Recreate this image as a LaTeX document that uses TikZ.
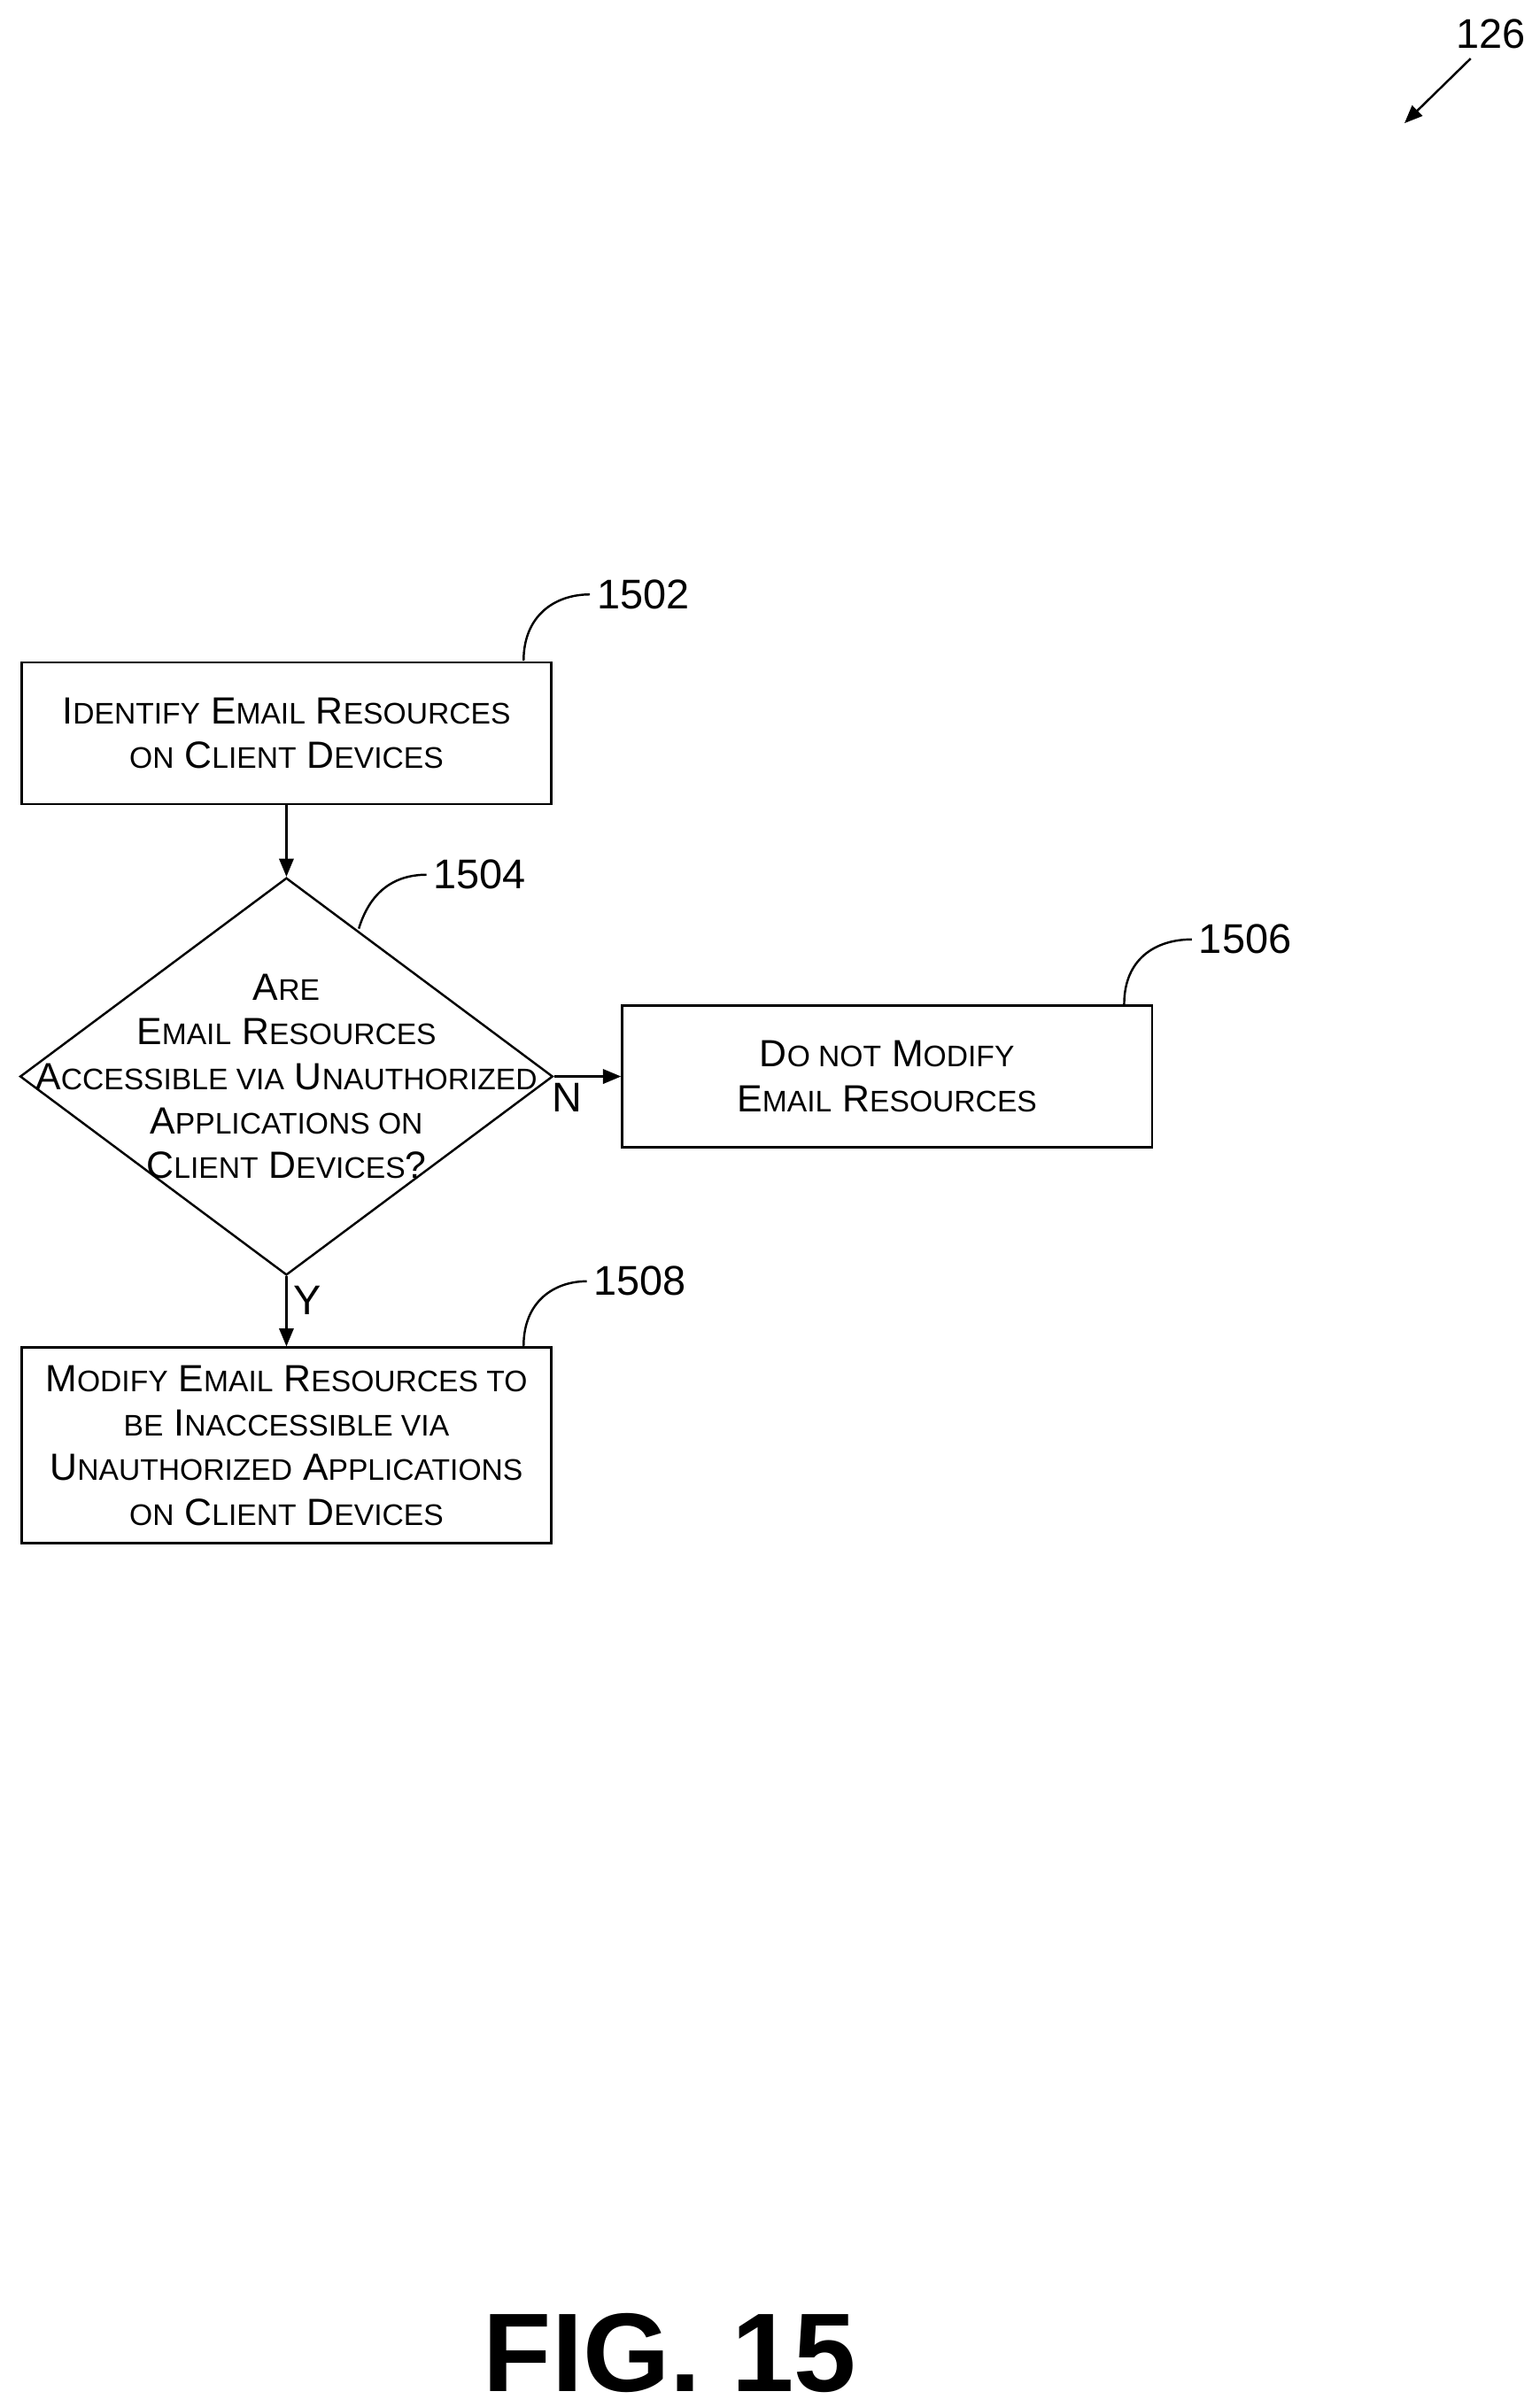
\documentclass[tikz,border=0pt]{standalone}
\usepackage{fontspec}
\setmainfont{Liberation Sans}
\usetikzlibrary{shapes.geometric,arrows.meta}
\newcommand{\lc}[1]{{\fontsize{16.5}{20}\selectfont #1}}
\begin{document}
\begin{tikzpicture}[x=0.03cm, y=-0.03cm, line width=1.2pt,
  box/.style={draw, minimum width=344*0.03cm, align=center, font=\fontsize{21}{24.7}\selectfont},
  ref/.style={font=\fontsize{23}{26}\selectfont},
  flow/.style={-{Triangle[length=10pt,width=8pt]}}]
\useasboundingbox (0,0) rectangle (1000,1563);
% boxes
\node[box, minimum height=92*0.03cm] (b1502) at (186,476) {I\lc{DENTIFY} E\lc{MAIL} R\lc{ESOURCES}\\\lc{ON} C\lc{LIENT} D\lc{EVICES}};
\node[box, diamond, minimum width=346*0.03cm, minimum height=258*0.03cm, inner sep=0pt] (d1504) at (186,699) {};
\node[box, draw=none, minimum width=0pt] at (186,699) {A\lc{RE}\\E\lc{MAIL} R\lc{ESOURCES}\\A\lc{CCESSIBLE VIA} U\lc{NAUTHORIZED}\\A\lc{PPLICATIONS ON}\\C\lc{LIENT} D\lc{EVICES}?};
\node[box, minimum height=92*0.03cm] (b1506) at (576,699) {D\lc{O NOT} M\lc{ODIFY}\\E\lc{MAIL} R\lc{ESOURCES}};
\node[box, minimum height=127*0.03cm] (b1508) at (186,938.5) {M\lc{ODIFY} E\lc{MAIL} R\lc{ESOURCES TO}\\\lc{BE} I\lc{NACCESSIBLE VIA}\\U\lc{NAUTHORIZED} A\lc{PPLICATIONS}\\\lc{ON} C\lc{LIENT} D\lc{EVICES}};
% connectors
\draw[flow] (b1502) -- (d1504.north);
\draw[flow] (d1504.east) -- (b1506.west) node[pos=0.2, below, ref] {N};
\draw[flow] (d1504.south) -- (b1508.north) node[pos=0.35, right, ref] {Y};
% reference numerals
\node[ref, anchor=west] (r1502) at (383,386) {1502};
\node[ref, anchor=west] (r1504) at (277,568) {1504};
\node[ref, anchor=west] (r1506) at (774,610) {1506};
\node[ref, anchor=west] (r1508) at (381,832) {1508};
\node[ref] (r126) at (968,22) {126};
\draw (340,429) .. controls (340,400) and (360,386) .. (r1502.west);
\draw (233,603) .. controls (240,580) and (255,568) .. (r1504.west);
\draw (730,652) .. controls (730,623) and (750,610) .. (r1506.west);
\draw (340,874) .. controls (340,845) and (360,832) .. (r1508.west);
\coordinate (a126) at (912,80);
\draw[flow] (955,38) -- (a126);
\node[font=\bfseries\fontsize{62}{66}\selectfont] (fig) at (435,1528) {FIG. 15};
\end{tikzpicture}
\end{document}
